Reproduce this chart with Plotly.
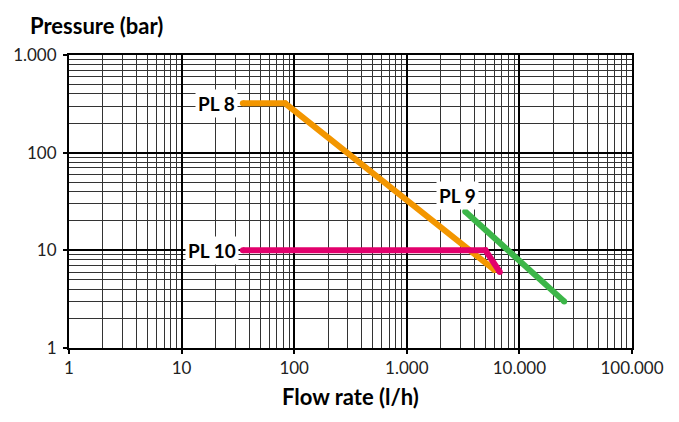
import math
import plotly.graph_objects as go

# ---- data ----
x_tick_vals = [1, 10, 100, 1000, 10000, 100000]
x_tick_text = ["1", "10", "100", "1.000", "10.000", "100.000"]
y_tick_vals = [1, 10, 100, 1000]
y_tick_text = ["1", "10", "100", "1.000"]

pl8_flow = [35, 83, 6000]
pl8_pressure = [320, 320, 6.3]

pl10_flow = [35, 5000, 6700]
pl10_pressure = [10, 10, 6.0]

pl9_flow = [3300, 25000]
pl9_pressure = [25, 3.0]

series_names = ["PL 8", "PL 9", "PL 10"]
colors = ["rgb(243,150,0)", "rgb(60,182,72)", "rgb(226,0,108)"]

minor_vals = [k * 10 ** d for d in range(5) for k in range(2, 10)]
minor_vals_y = [k * 10 ** d for d in range(3) for k in range(2, 10)]

FONT = "Lato"

fig = go.Figure()
for name, xs, ys, col in [
    (series_names[0], pl8_flow, pl8_pressure, colors[0]),
    (series_names[1], pl9_flow, pl9_pressure, colors[1]),
    (series_names[2], pl10_flow, pl10_pressure, colors[2]),
]:
    fig.add_trace(go.Scatter(
        x=xs, y=ys, mode="lines+markers", name=name,
        line=dict(color=col, width=6),
        marker=dict(color=col, size=6, line=dict(width=0)),
        showlegend=False, hoverinfo="skip",
    ))

axis_common = dict(
    type="log",
    showline=True, linecolor="black", linewidth=2, mirror=True,
    ticks="outside", ticklen=4, tickwidth=2, tickcolor="black",
    showgrid=True, gridcolor="black", gridwidth=2,
    zeroline=False,
    tickfont=dict(family=FONT, size=17, color="#222"),
)

fig.update_xaxes(
    **axis_common,
    range=[0, 5],
    tickmode="array", tickvals=x_tick_vals, ticktext=x_tick_text,
    minor=dict(tickvals=minor_vals, showgrid=True, gridcolor="#333", gridwidth=1, ticks=""),
)
fig.update_yaxes(
    **axis_common,
    range=[0, 3],
    tickmode="array", tickvals=y_tick_vals, ticktext=y_tick_text,
    ticklabelstandoff=3,
    minor=dict(tickvals=minor_vals_y, showgrid=True, gridcolor="#333", gridwidth=1, ticks=""),
)

label_font = dict(family=FONT, size=19, color="black", weight="bold")
fig.add_annotation(x=math.log10(pl8_flow[0]), y=math.log10(pl8_pressure[0]),
                   text="<b>PL 8</b>", showarrow=False, xanchor="right", yanchor="middle",
                   xshift=-5, bgcolor="white", borderpad=2, font=label_font)
fig.add_annotation(x=math.log10(pl10_flow[0]), y=math.log10(pl10_pressure[0]),
                   text="<b>PL 10</b>", showarrow=False, xanchor="right", yanchor="middle",
                   xshift=-4, bgcolor="white", borderpad=2, font=label_font)
fig.add_annotation(x=math.log10(pl9_flow[0]), y=math.log10(pl9_pressure[0]),
                   text="<b>PL 9</b>", showarrow=False, xanchor="center", yanchor="bottom",
                   xshift=-8, yshift=1, bgcolor="white", borderpad=2, font=label_font)

title_font = dict(family=FONT, size=22, color="black")
fig.add_annotation(xref="paper", yref="paper", x=-0.072, y=1.10,
                   text="<b>Pressure (bar)</b>", showarrow=False,
                   xanchor="left", yanchor="middle", font=title_font)
fig.add_annotation(xref="paper", yref="paper", x=0.5, y=-0.167,
                   text="<b>Flow rate (l/h)</b>", showarrow=False,
                   xanchor="center", yanchor="middle", font=title_font)

fig.update_layout(
    width=679, height=422, autosize=False,
    margin=dict(l=69, r=47, t=55, b=74),
    paper_bgcolor="white", plot_bgcolor="white",
)

fig.write_html("out.html", config={"displayModeBar": False},
               post_script="document.body.style.margin='0';")
